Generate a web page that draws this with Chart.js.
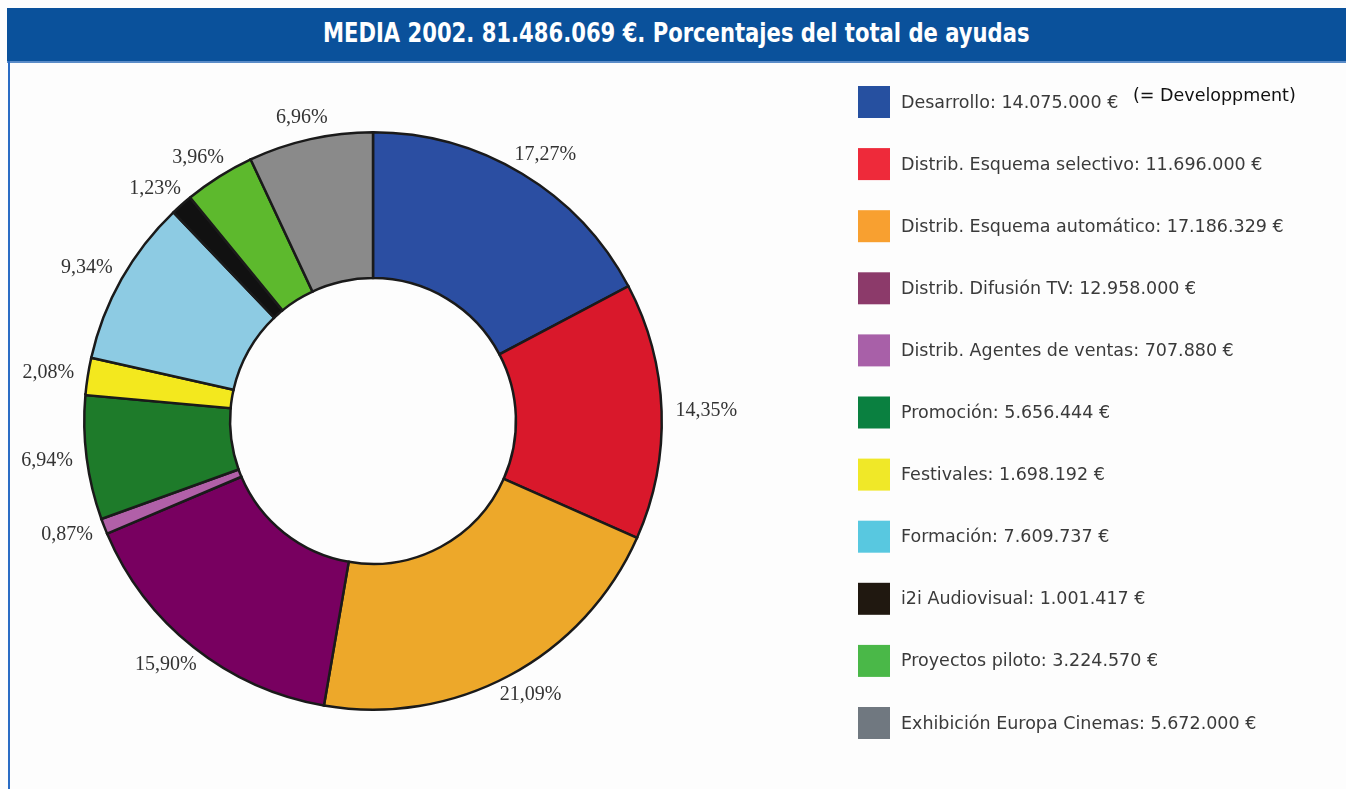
<!DOCTYPE html>
<html>
<head>
<meta charset="utf-8">
<script src="https://cdn.jsdelivr.net/npm/chart.js@4.4.0/dist/chart.umd.min.js"></script>
<style>
  html, body { margin: 0; padding: 0; background: #fdfdfd; }
  body { width: 1346px; height: 789px; position: relative; overflow: hidden; }
  #titlebar { position: absolute; left: 7px; top: 8px; width: 1339px; height: 53px; background: #0a519b; border-bottom: 2px solid #5a8cc8;
    color: #fff; font-family: "DejaVu Sans Condensed", "DejaVu Sans", sans-serif; font-weight: bold; font-size: 26px;
    line-height: 50px; text-align: center; white-space: nowrap; }
  #titlebar span { display: inline-block; transform: scaleX(0.903); transform-origin: center; }
  #leftline { position: absolute; left: 8px; top: 61px; width: 2px; height: 728px; background: #2a6cc4; }
  #wrap { position: absolute; left: 0; top: 0; width: 1346px; height: 789px; }
</style>
</head>
<body>
<div id="wrap"><canvas id="c" width="1346" height="789"></canvas></div>
<div id="titlebar"><span>MEDIA 2002. 81.486.069 €. Porcentajes del total de ayudas</span></div>
<div id="leftline"></div>
<script>
// ---- data ----
const categories = [
  "Desarrollo",
  "Distrib. Esquema selectivo",
  "Distrib. Esquema automático",
  "Distrib. Difusión TV",
  "Distrib. Agentes de ventas",
  "Promoción",
  "Festivales",
  "Formación",
  "i2i Audiovisual",
  "Proyectos piloto",
  "Exhibición Europa Cinemas"
];
const amounts = [14075000, 11696000, 17186329, 12958000, 707880, 5656444, 1698192, 7609737, 1001417, 3224570, 5672000];
const amountLabels = ["14.075.000 €", "11.696.000 €", "17.186.329 €", "12.958.000 €", "707.880 €", "5.656.444 €", "1.698.192 €", "7.609.737 €", "1.001.417 €", "3.224.570 €", "5.672.000 €"];
const percentLabels = ["17,27%", "14,35%", "21,09%", "15,90%", "0,87%", "6,94%", "2,08%", "9,34%", "1,23%", "3,96%", "6,96%"];
const sliceColors = ["#2b4ea2", "#d9182b", "#eda82a", "#780060", "#b160a8", "#1e7b2a", "#f3e81e", "#8dcbe3", "#111111", "#5db92d", "#8a8a8a"];
const legendColors = ["#2650a0", "#ee2a3a", "#f8a030", "#8c3a6a", "#a860a8", "#0a8040", "#f0e828", "#58c8e0", "#201810", "#4ab848", "#707880"];
const legendNote = "(= Developpment)";

// ---- plugins ----
const percentLabelPlugin = {
  id: "percentLabels",
  afterDatasetsDraw(chart) {
    const ctx = chart.ctx;
    const meta = chart.getDatasetMeta(0);
    ctx.save();
    ctx.font = '20px "Liberation Serif", "Times New Roman", serif';
    ctx.fillStyle = "#333";
    ctx.textAlign = "center";
    ctx.textBaseline = "middle";
    const h = 16;
    meta.data.forEach((arc, i) => {
      const p = arc.getProps(["x", "y", "startAngle", "endAngle", "outerRadius"], true);
      const mid = (p.startAngle + p.endAngle) / 2;
      const r = p.outerRadius + 14;
      const ax = p.x + r * Math.cos(mid);
      const ay = p.y + r * Math.sin(mid);
      const w = ctx.measureText(percentLabels[i]).width;
      const cx = ax + (w / 2) * Math.cos(mid);
      const cy = ay + (h / 2) * Math.sin(mid);
      ctx.fillText(percentLabels[i], cx, cy);
    });
    ctx.restore();
  }
};

const sideLegendPlugin = {
  id: "sideLegend",
  afterDraw(chart) {
    const ctx = chart.ctx;
    const x0 = 858, y0 = 102, step = 62.1, box = 32;
    ctx.save();
    ctx.textBaseline = "middle";
    ctx.textAlign = "left";
    categories.forEach((name, i) => {
      const cy = y0 + i * step;
      ctx.fillStyle = legendColors[i];
      ctx.fillRect(x0, cy - box / 2, box, box);
      ctx.font = '17.5px "DejaVu Sans", Arial, sans-serif';
      ctx.fillStyle = "#3a3a3a";
      const txt = name + ": " + amountLabels[i];
      ctx.fillText(txt, x0 + 43, cy + 1);
      if (i === 0) {
        ctx.font = '17.5px "DejaVu Sans", Arial, sans-serif';
        ctx.fillStyle = "#111";
        ctx.fillText(legendNote, 1133, cy - 6);
      }
    });
    ctx.restore();
  }
};

new Chart(document.getElementById("c"), {
  type: "doughnut",
  data: {
    labels: categories,
    datasets: [{
      data: amounts,
      backgroundColor: sliceColors,
      borderColor: "#1a1a1a",
      borderWidth: 2.5,
      borderJoinStyle: "miter"
    }]
  },
  options: {
    responsive: false,
    animation: false,
    cutout: "49.5%",
    layout: { padding: { left: 83, top: 131, right: 683, bottom: 78 } },
    plugins: {
      legend: { display: false },
      tooltip: { enabled: false },
      title: { display: false }
    }
  },
  plugins: [percentLabelPlugin, sideLegendPlugin]
});
</script>
</body>
</html>
